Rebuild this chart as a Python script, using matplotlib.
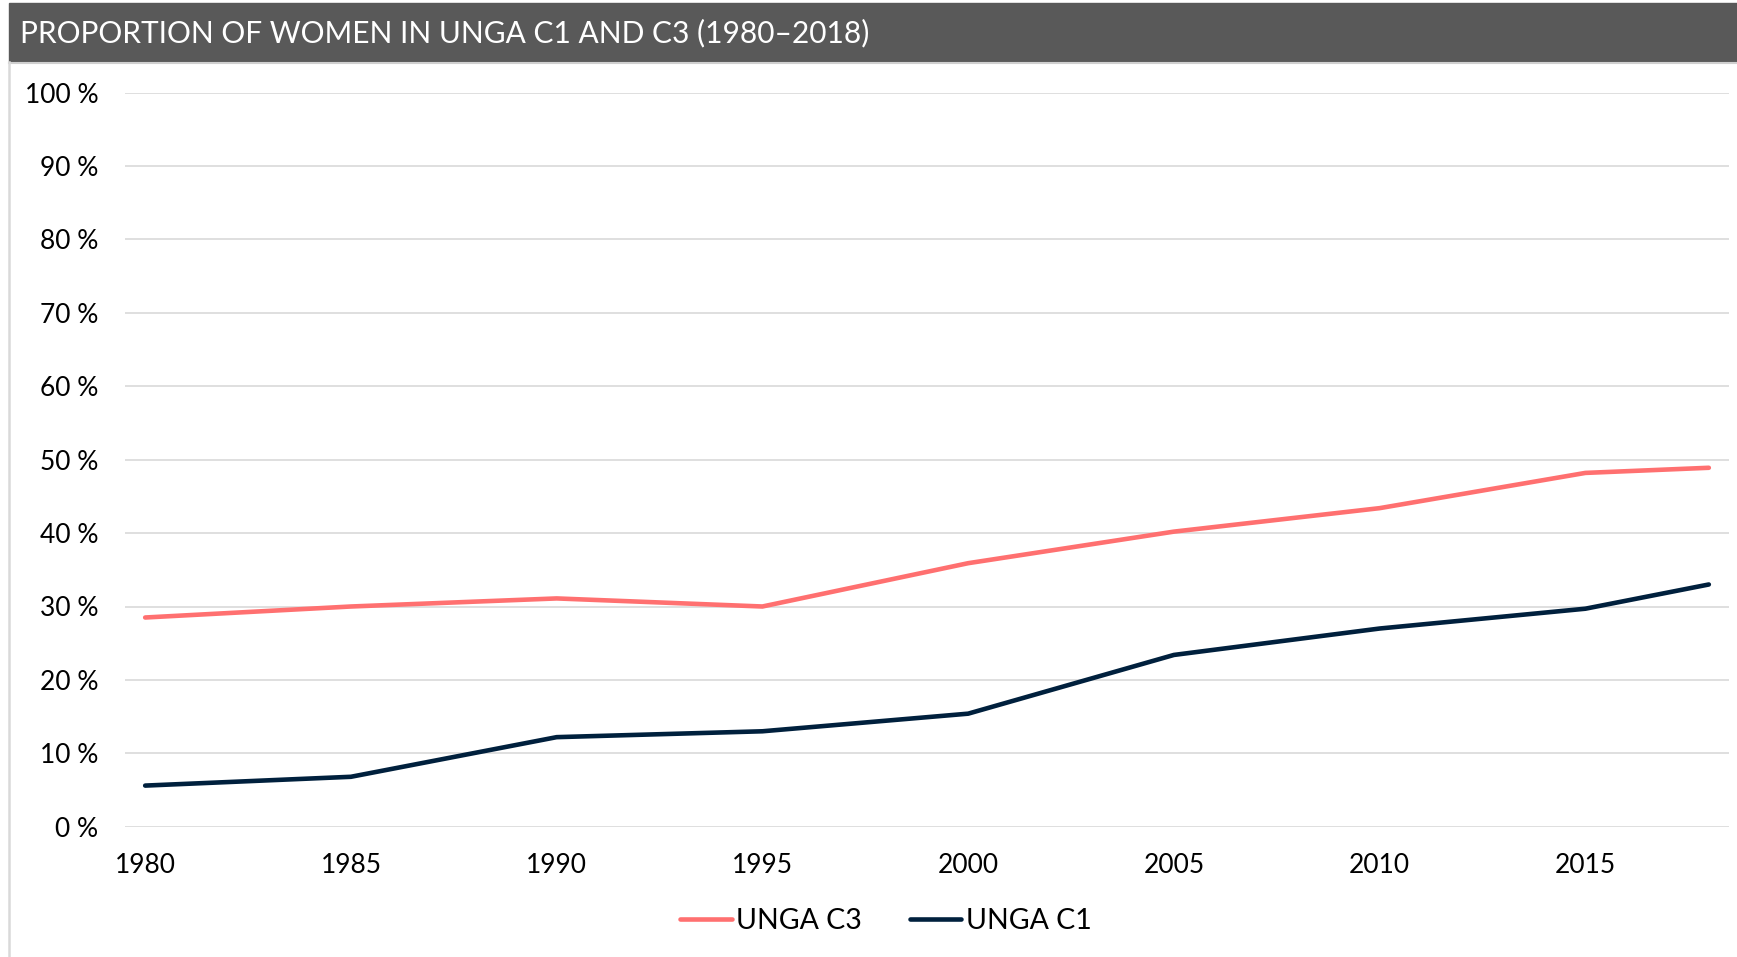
import matplotlib.pyplot as plt
from matplotlib.patches import Rectangle
from matplotlib.lines import Line2D
from matplotlib.ticker import FuncFormatter

years = [1980, 1985, 1990, 1995, 2000, 2005, 2010, 2015, 2018]
unga_c3 = [28.5, 30.0, 31.1, 30.0, 35.9, 40.2, 43.4, 48.2, 48.9]
unga_c1 = [5.6, 6.8, 12.2, 13.0, 15.4, 23.4, 27.0, 29.7, 33.0]
xticks = [1980, 1985, 1990, 1995, 2000, 2005, 2010, 2015]
yticks = [0, 10, 20, 30, 40, 50, 60, 70, 80, 90, 100]
title = "PROPORTION OF WOMEN IN UNGA C1 AND C3 (1980–2018)"

plt.rcParams['font.family'] = ['Lato', 'DejaVu Sans']

W, H = 1737, 957
fig = plt.figure(figsize=(W / 100, H / 100), dpi=100)

# title bar + left border
fig.patches.append(Rectangle((9 / W, 1 - 62 / H), 1 - 9 / W, 59 / H,
                             transform=fig.transFigure, color='#595959', zorder=0))
fig.lines.append(Line2D([9 / W, 1], [1 - 63 / H, 1 - 63 / H], transform=fig.transFigure,
                        color='#cfcfcf', lw=1.5))
fig.lines.append(Line2D([9 / W, 9 / W], [0, 1 - 62 / H], transform=fig.transFigure,
                        color='#d9d9d9', lw=1.8))
fig.text(20 / W, 1 - 42 / H, title, color='white', fontsize=21.5, va='baseline', ha='left')

ax = fig.add_axes([125 / W, (H - 826.7) / H, (1729 - 125) / W, (826.7 - 92.7) / H])
ax.plot(years, unga_c3, color='#ff7070', lw=3.3, solid_capstyle='round', solid_joinstyle='round',
        label='UNGA C3')
ax.plot(years, unga_c1, color='#00203d', lw=3.3, solid_capstyle='round', solid_joinstyle='round',
        label='UNGA C1')

ax.set_xlim(1979.51, 2018.49)
ax.set_ylim(0, 100)
ax.set_xticks(xticks)
ax.set_yticks(yticks)
ax.yaxis.set_major_formatter(FuncFormatter(lambda v, p: f"{int(v)} %"))
ax.tick_params(length=0, labelsize=19, colors='black')
ax.tick_params(axis='y', pad=19)
ax.tick_params(axis='x', pad=19)
ax.grid(axis='y', color='#d9d9d9', lw=1.2)
ax.set_axisbelow(True)
for s in ax.spines.values():
    s.set_visible(False)

fig.legend(loc='center', bbox_to_anchor=(0.510, 1 - 921 / H), ncol=2, frameon=False,
           fontsize=20.5, handlelength=1.8, handletextpad=0.15, columnspacing=1.7)

fig.savefig('out.png', dpi=100)
